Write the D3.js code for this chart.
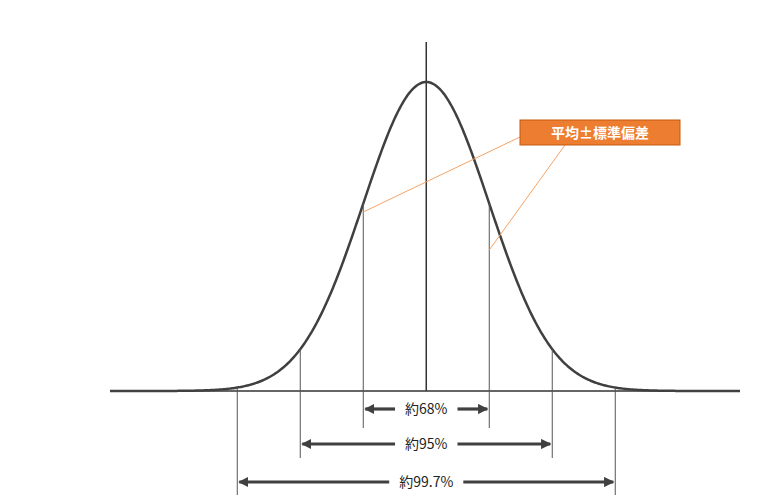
<!DOCTYPE html>
<html><head><meta charset="utf-8">
<script src="https://cdn.jsdelivr.net/npm/d3@7"></script>
<style>body{margin:0;background:#fff}</style></head>
<body><svg id="c" width="768" height="502"></svg>
<script>
const sigmaLines=[-3,-2,-1,1,2,3];
const ranges=[1,2,3];
const rangeLabels=["約68%","約95%","約99.7%"];
const annotation="平均±標準偏差";
const xDomain=[-5.02,4.98];

const svg=d3.select("#c");
const x=d3.scaleLinear().domain(xDomain).range([110,740]);
const pdf=z=>Math.exp(-z*z/2);
const y=d3.scaleLinear().domain([0,1]).range([391,82]);
const col="#404040";

const defs=svg.append("defs");
defs.append("marker").attr("id","ah").attr("viewBox","0 0 10 10").attr("refX",9).attr("refY",5)
 .attr("markerWidth",3.2).attr("markerHeight",3.2).attr("orient","auto-start-reverse")
 .append("path").attr("d","M0,0L10,5L0,10z").attr("fill",col);

svg.append("line").attr("x1",x(xDomain[0])).attr("x2",x(xDomain[1])).attr("y1",y(0)).attr("y2",y(0)).attr("stroke","#333").attr("stroke-width",1.5);
svg.append("line").attr("x1",x(0)).attr("x2",x(0)).attr("y1",42).attr("y2",y(0)).attr("stroke","#333").attr("stroke-width",1.5);

const pts=d3.range(xDomain[0],xDomain[1]+0.001,0.02);
svg.append("path").datum(pts).attr("d",d3.line().x(d=>x(d)).y(d=>y(pdf(d)))).attr("fill","none").attr("stroke","#404040").attr("stroke-width",2.5);

const bottoms={1:428,2:458,3:495};
sigmaLines.forEach(s=>{
 svg.append("line").attr("x1",x(s)).attr("x2",x(s)).attr("y1",y(pdf(s))).attr("y2",bottoms[Math.abs(s)]).attr("stroke","#555").attr("stroke-width",1);
});

const arrowY={1:409,2:444,3:482};
ranges.forEach((r,i)=>{
 const yy=arrowY[r], cx=x(0);
 const t=svg.append("text").attr("x",cx).attr("y",yy+5).attr("text-anchor","middle")
  .attr("font-family","Noto Sans CJK JP").attr("font-size",14).attr("fill","#222").text(rangeLabels[i]);
 const w=t.node().getComputedTextLength()/2+10;
 svg.append("line").attr("x1",cx-w).attr("x2",x(-r)+2).attr("y1",yy).attr("y2",yy).attr("stroke",col).attr("stroke-width",3.2).attr("marker-end","url(#ah)");
 svg.append("line").attr("x1",cx+w).attr("x2",x(r)-2).attr("y1",yy).attr("y2",yy).attr("stroke",col).attr("stroke-width",3.2).attr("marker-end","url(#ah)");
});

svg.append("line").attr("x1",520).attr("y1",137).attr("x2",x(-1)).attr("y2",212).attr("stroke","#F4A366").attr("stroke-width",1);
svg.append("line").attr("x1",565).attr("y1",145).attr("x2",x(1)).attr("y2",250).attr("stroke","#F4A366").attr("stroke-width",1);
svg.append("rect").attr("x",520).attr("y",120).attr("width",160).attr("height",25).attr("fill","#ED7D31").attr("stroke","#C55A11").attr("stroke-width",1);
svg.append("text").attr("x",600).attr("y",138).attr("text-anchor","middle").attr("font-family","Noto Sans CJK JP").attr("font-size",14).attr("font-weight","bold").attr("fill","#fff").text(annotation);
</script></body></html>
